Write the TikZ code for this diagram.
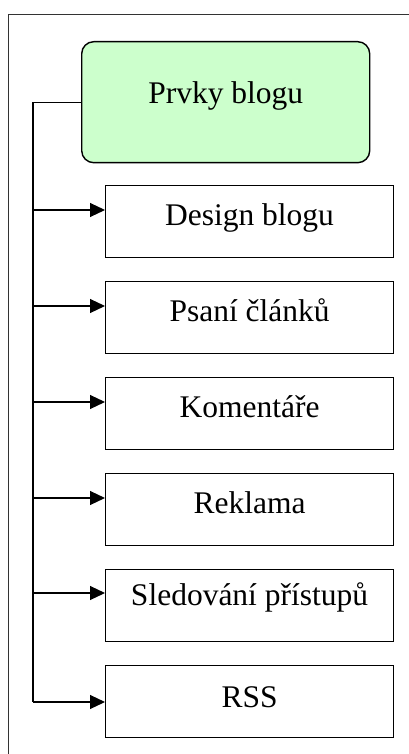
\documentclass[tikz,border=0pt]{standalone}
\usepackage{fontspec}
\setmainfont{Liberation Serif}
\usetikzlibrary{arrows.meta}

\tikzset{
  itembox/.style={draw=black, line width=1.1pt, fill=white, inner sep=0pt,
    minimum width=288pt, anchor=north west,
    font=\fontsize{31.5}{38}\selectfont, text height=40pt, text depth=32pt},
  rootbox/.style={draw=black, line width=1.4pt, fill=rootgreen, rounded corners=12pt,
    inner sep=0pt, minimum width=288pt, anchor=north west,
    font=\fontsize{31.5}{38}\selectfont, text height=62pt, text depth=59pt},
  link/.style={draw=black, line width=1.1pt},
  feed/.style={link, -{Triangle[length=15pt,width=14pt]}},
  frame/.style={draw=black!80, line width=1pt}
}
\definecolor{rootgreen}{HTML}{CCFFCC}

\begin{document}
\begin{tikzpicture}[x=1pt, y=-1pt]
  \useasboundingbox (0,0) rectangle (409,754);
  \clip (0,0) rectangle (409,754);

  % outer frame running past the right and bottom edges
  \draw[frame] (8,15) rectangle (440,790);

  % root and its children
  \node[rootbox] (root) at (81,41) {Prvky blogu};
  \node[itembox] (design) at (105,185) {Design blogu};
  \node[itembox] (psani) at (105,281) {Psaní článků};
  \node[itembox] (koment) at (105,377) {Komentáře};
  \node[itembox] (reklama) at (105,473) {Reklama};
  \node[itembox, text height=36pt, text depth=36pt] (sled) at (105,569) {Sledování přístupů};
  \node[itembox, text height=42pt, text depth=30pt] (rss) at (105,665) {RSS};

  % branch points on the vertical trunk
  \coordinate (top) at (33,0 |- root.west);
  \coordinate (b1) at (33,210);
  \coordinate (b2) at (33,306);
  \coordinate (b3) at (33,402);
  \coordinate (b4) at (33,498);
  \coordinate (b5) at (33,593);
  \coordinate (b6) at (33,702);

  % trunk
  \draw[link] (root.west) -- (top) -- (b6);

  % arrows into each child
  \draw[feed] (b1) -- (b1 -| design.west);
  \draw[feed] (b2) -- (b2 -| psani.west);
  \draw[feed] (b3) -- (b3 -| koment.west);
  \draw[feed] (b4) -- (b4 -| reklama.west);
  \draw[feed] (b5) -- (b5 -| sled.west);
  \draw[feed] (b6) -- (b6 -| rss.west);
\end{tikzpicture}
\end{document}
